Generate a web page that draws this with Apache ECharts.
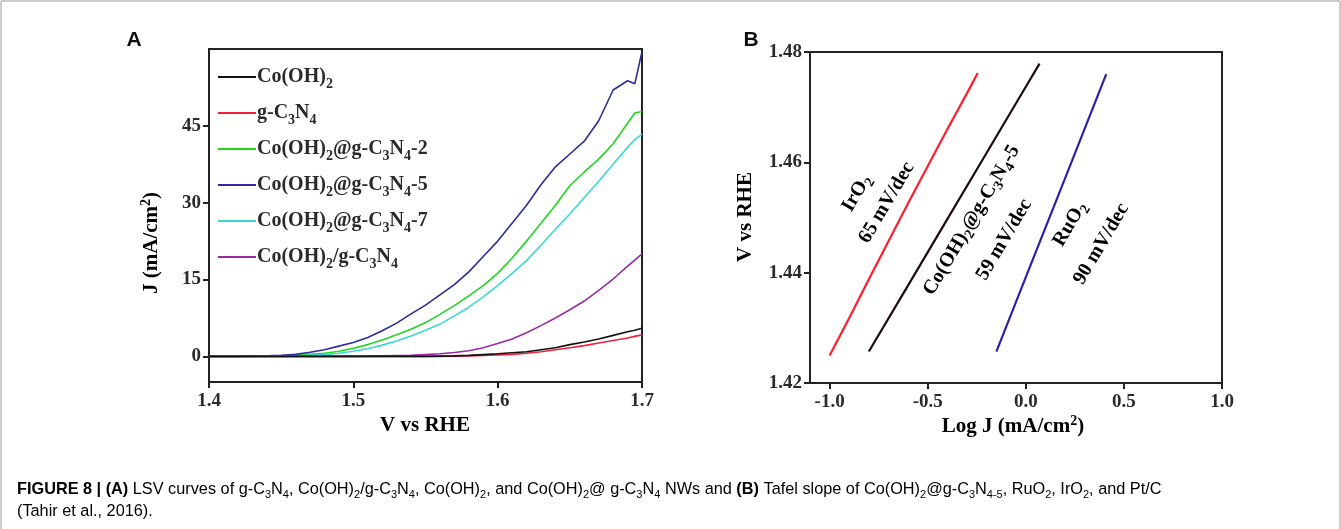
<!DOCTYPE html>
<html>
<head>
<meta charset="utf-8">
<script src="https://cdn.jsdelivr.net/npm/echarts@6/dist/echarts.min.js"></script>
<style>
html,body{margin:0;padding:0;background:#fff;}
#chart{width:1341px;height:529px;}
</style>
</head>
<body>
<div id="chart"></div>
<script>
// ---------- Panel A: LSV curves ----------
const volts = [1.40,1.41,1.42,1.43,1.44,1.45,1.46,1.47,1.48,1.49,1.50,1.51,1.52,1.53,1.54,1.55,1.56,1.57,1.58,1.59,1.60,1.61,1.62,1.63,1.64,1.65,1.66,1.67,1.68,1.69,1.695,1.70];
const jCoOH2   = [0,0,0,0,0,0,0,0,0,0,0,0,0,0,0,0,0.05,0.1,0.2,0.35,0.5,0.7,0.9,1.3,1.7,2.3,2.8,3.4,4.1,4.8,5.1,5.5];
const jGC3N4   = [0,0,0,0,0,0,0,0,0,0,0,0,0,0,0,0,0,0.05,0.1,0.2,0.3,0.4,0.6,0.9,1.3,1.7,2.1,2.6,3.1,3.6,3.9,4.2];
const jCat2    = [0,0,0,0,0.05,0.1,0.2,0.4,0.6,1.0,1.6,2.3,3.2,4.2,5.3,6.6,8.2,9.9,11.8,13.8,16.2,19.2,22.5,26.0,29.5,33.3,36.0,38.5,41.5,45.5,47.5,47.8];
const jCat5    = [0,0,0,0.05,0.1,0.2,0.4,0.8,1.3,2.0,2.7,3.7,5.0,6.5,8.3,10.0,12.0,14.0,16.5,19.5,22.5,26.0,29.5,33.5,37.0,39.5,42.0,46.0,52.0,53.8,53.2,59.5];
const jCat7    = [0,0,0,0,0,0.05,0.1,0.2,0.35,0.6,1.0,1.5,2.2,3.0,4.0,5.1,6.3,7.9,9.6,11.6,13.8,16.2,18.7,21.7,24.8,27.8,31.0,34.2,37.5,40.8,42.3,43.4];
const jMix     = [0,0,0,0,0,0,0,0,0,0,0,0.05,0.1,0.15,0.2,0.35,0.5,0.75,1.1,1.7,2.5,3.4,4.6,6.0,7.5,9.1,10.8,12.9,15.1,17.6,18.8,20.0];
const namesA   = ['Co(OH)2','g-C3N4','Co(OH)2@g-C3N4-2','Co(OH)2@g-C3N4-5','Co(OH)2@g-C3N4-7','Co(OH)2/g-C3N4'];
const richNamesA = ['{n|Co(OH)}{s|2}','{n|g-C}{s|3}{n|N}{s|4}','{n|Co(OH)}{s|2}{n|@g-C}{s|3}{n|N}{s|4}{n|-2}','{n|Co(OH)}{s|2}{n|@g-C}{s|3}{n|N}{s|4}{n|-5}','{n|Co(OH)}{s|2}{n|@g-C}{s|3}{n|N}{s|4}{n|-7}','{n|Co(OH)}{s|2}{n|/g-C}{s|3}{n|N}{s|4}'];
const colorsA  = ['#111111','#f0203a','#22d422','#2c2c9e','#3ad8d0','#9a2aa8'];
const xTicksA  = [1.4,1.5,1.6,1.7];
const yTicksA  = [0,15,30,45];

// ---------- Panel B: Tafel plots ----------
const logJIr   = [-1.0,-0.9,-0.8,-0.7,-0.6,-0.5,-0.4,-0.3,-0.245];
const vIr      = [1.4250,1.4318,1.4388,1.4457,1.4526,1.4593,1.4660,1.4725,1.4762];
const logJCat  = [-0.80,-0.60,-0.40,-0.20,0.0,0.07];
const vCat     = [1.4257,1.4377,1.4497,1.4617,1.4737,1.4779];
const logJRu   = [-0.15,0.0,0.2,0.41];
const vRu      = [1.4257,1.4392,1.4571,1.4760];
const colorsB  = ['#ff1e2e','#1a0a0a','#2a22a8'];
const xTicksB  = [-1.0,-0.5,0.0,0.5,1.0];
const yTicksB  = [1.42,1.44,1.46,1.48];
// annotation texts with their anchor in data coordinates
const annoText = ['{n|IrO}{s|2}','{n|65 mV/dec}','{n|Co(OH)}{s|2}{n|@g-C}{s|3}{n|N}{s|4}{n|-5}','{n|59 mV/dec}','{n|RuO}{s|2}','{n|90 mV/dec}'];
const annoX    = [-0.862,-0.709,-0.276,-0.110,0.225,0.385];
const annoY    = [1.4544,1.4527,1.4495,1.4460,1.4488,1.4452];
const annoCol  = [0,0,1,1,2,2];

const SERIF = '"Liberation Serif","Times New Roman",serif';
const SANS = '"Liberation Sans",Arial,Helvetica,sans-serif';

function pairs(xs, ys){ return xs.map((x,i)=>[x, ys[i]]); }
const seriesA = [jCoOH2,jGC3N4,jCat2,jCat5,jCat7,jMix].map((arr,i)=>({
  name: namesA[i], type:'line', xAxisIndex:0, yAxisIndex:0,
  data: pairs(volts, arr), symbol:'none', smooth:false,
  lineStyle:{color:colorsA[i], width:1.6}, itemStyle:{color:colorsA[i]}, z: 3 + (i===0?1:0)
}));
const seriesB = [[logJIr,vIr],[logJCat,vCat],[logJRu,vRu]].map((p,i)=>({
  name:'B'+i, type:'line', xAxisIndex:1, yAxisIndex:1,
  data: pairs(p[0], p[1]), symbol:'none', lineStyle:{color:colorsB[i], width:2.2}
}));

const tickLabel = {fontFamily:SERIF, fontWeight:'bold', fontSize:19, color:'#2a2a2a'};
function richSet(size, color, subSize, lh){
  return {
    n:{fontFamily:SERIF, fontWeight:'bold', fontSize:size, color:color, lineHeight:lh},
    s:{fontFamily:SERIF, fontWeight:'bold', fontSize:subSize, color:color, lineHeight:lh, verticalAlign:'bottom'},
    p:{fontFamily:SERIF, fontWeight:'bold', fontSize:subSize, color:color, lineHeight:lh, verticalAlign:'top'}
  };
}

const chart = echarts.init(document.getElementById('chart'), null, {renderer:'canvas'});
const baseAxis = {
  axisLine:{show:true, onZero:false, lineStyle:{color:'#222', width:2}},
  axisTick:{show:true, inside:false, length:6, lineStyle:{color:'#222', width:2}},
  splitLine:{show:false}
};
const option = {
  backgroundColor:'#fff',
  animation:false,
  grid:[
    {left:209, right:699, top:49, bottom:147, show:true, borderColor:'#222', borderWidth:2, backgroundColor:'transparent'},
    {left:810, right:119, top:52, bottom:146, show:true, borderColor:'#222', borderWidth:2, backgroundColor:'transparent'}
  ],
  xAxis:[
    Object.assign({}, baseAxis, {type:'value', gridIndex:0, min:1.4, max:1.7,
      axisTick:Object.assign({}, baseAxis.axisTick, {customValues:xTicksA}),
      axisLabel:Object.assign({}, tickLabel, {customValues:xTicksA, margin:10, formatter:v=>v.toFixed(1)})}),
    Object.assign({}, baseAxis, {type:'value', gridIndex:1, min:-1.1, max:1.0,
      axisTick:Object.assign({}, baseAxis.axisTick, {customValues:xTicksB}),
      axisLabel:Object.assign({}, tickLabel, {customValues:xTicksB, margin:10, formatter:v=>v.toFixed(1)})})
  ],
  yAxis:[
    Object.assign({}, baseAxis, {type:'value', gridIndex:0, min:-5, max:60,
      axisTick:Object.assign({}, baseAxis.axisTick, {customValues:yTicksA}),
      axisLabel:Object.assign({}, tickLabel, {customValues:yTicksA, margin:8})}),
    Object.assign({}, baseAxis, {type:'value', gridIndex:1, min:1.42, max:1.48,
      axisTick:Object.assign({}, baseAxis.axisTick, {customValues:yTicksB}),
      axisLabel:Object.assign({}, tickLabel, {customValues:yTicksB, margin:8, formatter:v=>v.toFixed(2)})})
  ],
  legend:{
    data: namesA, orient:'vertical', left:213, top:62, itemWidth:38, itemHeight:2, itemGap:12, icon:'rect',
    formatter: name => richNamesA[namesA.indexOf(name)],
    textStyle:{fontFamily:SERIF, fontWeight:'bold', fontSize:20, color:'#2a2a2a', padding:[0,0,0,-4],
      rich: richSet(20,'#2a2a2a',14,28)}
  },
  series: seriesA.concat(seriesB)
};
chart.setOption(option);

// annotations & titles (positions of text derived from data through the chart's scales)
const gfx = [];
const p0 = chart.convertToPixel({gridIndex:1}, [logJCat[0], vCat[0]]);
const p1 = chart.convertToPixel({gridIndex:1}, [logJCat[logJCat.length-1], vCat[vCat.length-1]]);
const ang = Math.atan2(p0[1]-p1[1], p1[0]-p0[0]);
annoText.forEach((t,i)=>{
  const p = chart.convertToPixel({gridIndex:1}, [annoX[i], annoY[i]]);
  gfx.push({type:'text', x:p[0], y:p[1], rotation:ang, z:10,
    style:{text:t, align:'center', verticalAlign:'middle', rich:richSet(20, colorsB[annoCol[i]], 14, 26)}});
});
const axisRich = richSet(21,'#2a2a2a',14,26);
gfx.push({type:'text', x:152, y:243, rotation:Math.PI/2, style:{text:'{n|J (mA/cm}{p|2}{n|)}', align:'center', verticalAlign:'middle', rich:axisRich}});
gfx.push({type:'text', x:425, y:426, style:{text:'{n|V vs RHE}', align:'center', verticalAlign:'middle', rich:axisRich}});
gfx.push({type:'text', x:746, y:217, rotation:Math.PI/2, style:{text:'{n|V vs RHE}', align:'center', verticalAlign:'middle', rich:axisRich}});
gfx.push({type:'text', x:1013, y:427, style:{text:'{n|Log J (mA/cm}{p|2}{n|)}', align:'center', verticalAlign:'middle', rich:axisRich}});
// panel letters
gfx.push({type:'text', x:134, y:40, style:{text:'A', font:'bold 21px '+SANS, fill:'#111', align:'center', verticalAlign:'middle'}});
gfx.push({type:'text', x:751, y:40, style:{text:'B', font:'bold 21px '+SANS, fill:'#111', align:'center', verticalAlign:'middle'}});
// figure border
gfx.push({type:'polyline', shape:{points:[[1,529],[1,1],[1340,1],[1340,529]]}, style:{stroke:'#9a9a9a', lineWidth:1, fill:null}});
// caption
const capRich = {
  b:{fontFamily:SANS, fontWeight:'bold', fontSize:16.3, color:'#222', lineHeight:22},
  r:{fontFamily:SANS, fontSize:16.3, color:'#222', lineHeight:22},
  s:{fontFamily:SANS, fontSize:11, color:'#222', lineHeight:22, verticalAlign:'bottom', padding:[0,0,1,0]},
  g:{fontFamily:SANS, fontSize:16.3, color:'#6e6e6e', lineHeight:22}
};
const capText = '{b|FIGURE 8 | (A)}{r| LSV curves of g-C}{s|3}{r|N}{s|4}{r|, Co(OH)}{s|2}{r|/g-C}{s|3}{r|N}{s|4}{r|, Co(OH)}{s|2}{r|, and Co(OH)}{s|2}{r|@ g-C}{s|3}{r|N}{s|4}{r| NWs and }{b|(B)}{r| Tafel slope of Co(OH)}{s|2}{r|@g-C}{s|3}{r|N}{s|4-5}{r|, RuO}{s|2}{r|, IrO}{s|2}{r|, and Pt/C}\n{r|(}{g|Tahir et al., 2016}{r|).}';
gfx.push({type:'text', x:17, y:479, style:{text:capText, rich:capRich, align:'left', verticalAlign:'top'}});
chart.setOption({graphic:gfx});
</script>
</body>
</html>
